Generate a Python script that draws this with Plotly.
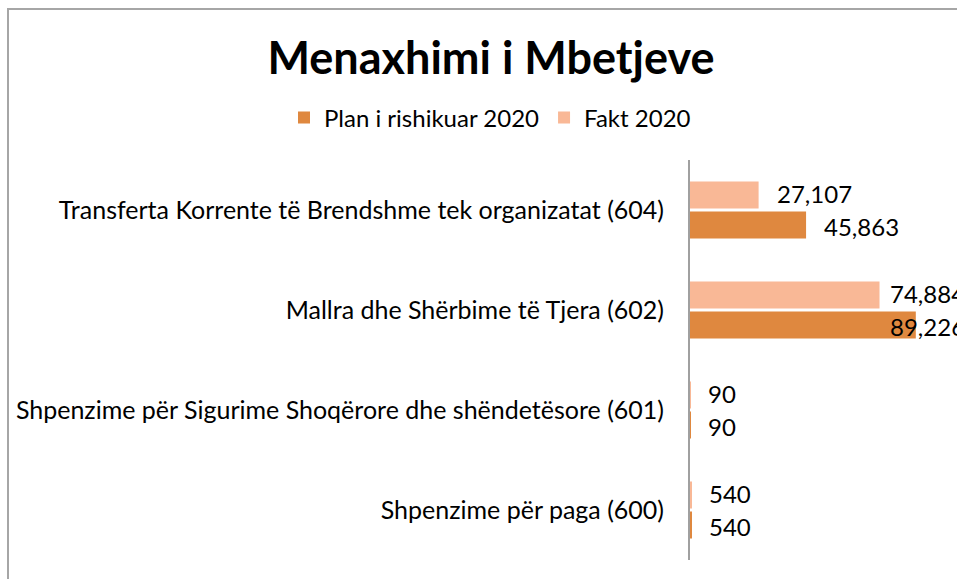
import plotly.graph_objects as go

categories = [
    "Shpenzime për paga (600)",
    "Shpenzime për Sigurime Shoqërore dhe shëndetësore (601)",
    "Mallra dhe Shërbime të Tjera (602)",
    "Transferta Korrente të Brendshme tek organizatat (604)",
]
plan_2020 = [540, 90, 89226, 45863]
fakt_2020 = [540, 90, 74884, 27107]

series_names = ["Plan i rishikuar 2020", "Fakt 2020"]
colors = ["#DF883F", "#F9B896"]

FONT = "Lato"
XMAX = 105500
LABEL_CAP = 71900  # Excel keeps labels inside chart area

W, H = 957, 579
L, T, B = 690, 160, 19
PW, PH = W - L, H - T - B

fig = go.Figure()
for name, vals, col in zip(series_names, [plan_2020, fakt_2020], colors):
    fig.add_trace(go.Bar(
        y=categories, x=vals, name=name, orientation="h",
        marker=dict(color=col, line=dict(width=0)),
        hoverinfo="x+name",
    ))

annotations = []
for ti, vals in enumerate([plan_2020, fakt_2020]):
    for ci, v in enumerate(vals):
        offset = (-0.165 if ti == 0 else 0.165)
        annotations.append(dict(
            x=min(v, LABEL_CAP), y=ci + offset, xref="x", yref="y",
            text=f"{v:,}", showarrow=False, xanchor="left", yanchor="middle",
            xshift=16, font=dict(family=FONT, size=24, color="#000000"),
        ))

fig.update_layout(
    width=W, height=H,
    paper_bgcolor="white", plot_bgcolor="white",
    margin=dict(l=L, r=0, t=T, b=B, autoexpand=False),
    barmode="group", bargap=0.4, bargroupgap=0.1,
    font=dict(family=FONT, size=25, color="#000000"),
    title=dict(text="<b>Menaxhimi i Mbetjeve</b>", x=491 / W, xref="container",
               xanchor="center", y=1 - 58 / H, yref="container", yanchor="middle",
               font=dict(family=FONT, size=45, color="#000000")),
    legend=dict(orientation="h", x=(284 - L) / PW, xref="paper", xanchor="left",
                y=1 + (T - 118) / PH, yref="paper", yanchor="middle",
                font=dict(family=FONT, size=24, color="#000000"),
                traceorder="normal"),
    annotations=annotations,
    shapes=[dict(type="rect", xref="paper", yref="paper",
                 x0=(8 - L) / PW, x1=1.5,
                 y0=-0.5, y1=1 + (T - 9) / PH,
                 line=dict(color="#A6A6A6", width=2), fillcolor="rgba(0,0,0,0)",
                 layer="below")],
)
fig.update_xaxes(range=[0, XMAX], showticklabels=False, showgrid=False,
                 zeroline=False, showline=False)
fig.update_yaxes(showline=True, linecolor="#A0A0A0", linewidth=2,
                 showgrid=False, zeroline=False, ticks="",
                 ticklabelstandoff=19, categoryorder="array", categoryarray=categories)

fig.write_html("out.html", config={"displayModeBar": False},
               post_script="document.body.style.margin='0';document.body.style.overflow='hidden';")
